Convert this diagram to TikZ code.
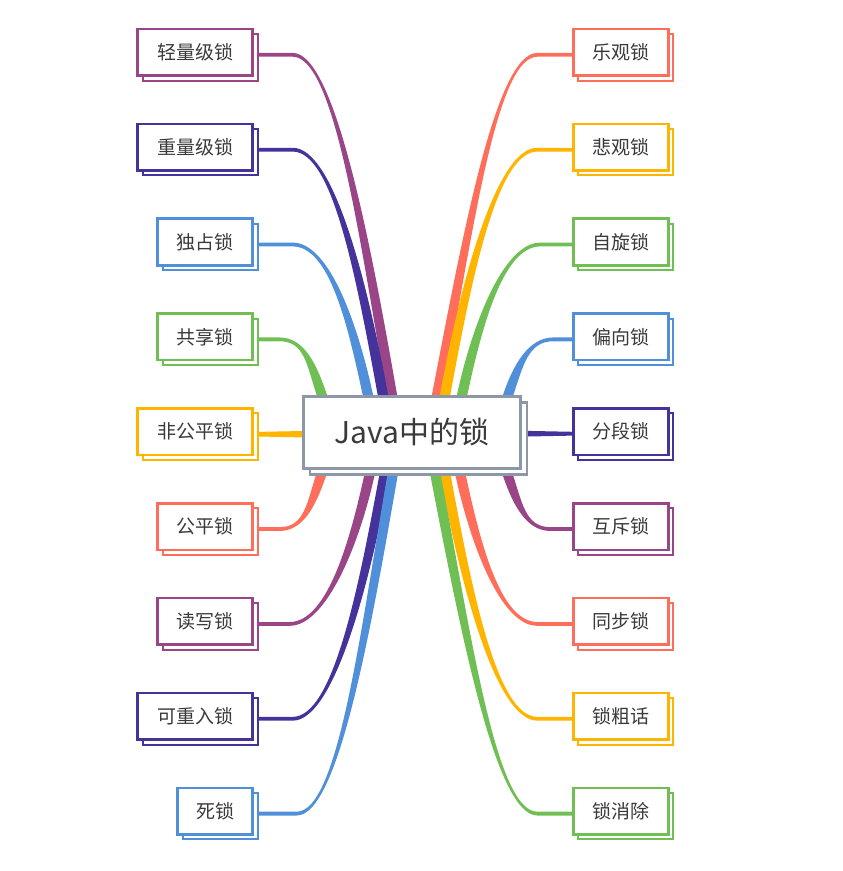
\documentclass[tikz,border=0pt]{standalone}
\usepackage{fontspec}
\setmainfont{Noto Sans CJK SC}
\usetikzlibrary{calc,backgrounds}
\definecolor{cPur}{HTML}{9A4587}
\definecolor{cInd}{HTML}{45329A}
\definecolor{cBlu}{HTML}{508FDA}
\definecolor{cGrn}{HTML}{70BF55}
\definecolor{cOra}{HTML}{FFB400}
\definecolor{cRed}{HTML}{FF6E5A}
\definecolor{cCen}{HTML}{8C97A8}
\definecolor{cTxt}{HTML}{3A3A3A}
\tikzset{
  topic/.style={draw=#1, line width=2.6pt, fill=white, minimum height=46.5pt, inner sep=0pt, outer sep=0pt,
    text=cTxt, font=\fontsize{19}{19}\selectfont, text height=16.7pt, text depth=2.3pt},
  shadowbox/.style={draw=#1, line width=2pt, fill=white, minimum height=46.5pt, inner sep=0pt, outer sep=0pt},
}
\def\bw{1.9}
\def\ba{5.2}
\newcommand\tbrfill[2]{%
  \fill[#1] ($(bE)+(0,-\bw)$) -- ($(bH)+(0,-\bw)$)
    .. controls ($(bC1)+(0,-\bw)$) and ($(bC2)+(#2*\ba,0)$) .. ($(bS)+(#2*\ba,0)$)
    -- ($(bX)+(#2*\ba,0)$) -- ($(bX)-(#2*\ba,0)$) -- ($(bS)-(#2*\ba,0)$)
    .. controls ($(bC2)-(#2*\ba,0)$) and ($(bC1)+(0,\bw)$) .. ($(bH)+(0,\bw)$)
    -- ($(bE)+(0,\bw)$) -- cycle;}
\begin{document}
\begin{tikzpicture}[x=1pt,y=-1pt]
\useasboundingbox (0,0) rectangle (843,871);
% central topic
\node[draw=cCen, line width=2.2pt, fill=white, minimum width=217pt, minimum height=72pt, inner sep=0pt, outer sep=0pt] (Cs) at (418.5,438.5) {};
\node[draw=cCen, line width=3.2pt, fill=white, minimum width=217pt, minimum height=72pt, inner sep=0pt, outer sep=0pt,
  text=cTxt, font=\fontsize{30}{30}\selectfont, text height=26pt, text depth=4pt] (C) at (412,432.5) {Java中的锁};
% left topics
\foreach \i/\t/\c/\w in {0/轻量级锁/cPur/115, 1/重量级锁/cInd/115, 2/独占锁/cBlu/95, 3/共享锁/cGrn/95,
  4/非公平锁/cOra/115, 5/公平锁/cRed/95, 6/读写锁/cPur/95, 7/可重入锁/cInd/115, 8/死锁/cBlu/75}{
  \pgfmathsetmacro\yy{52.3+94.85*\i}
  \node[shadowbox=\c, minimum width=\w pt, anchor=east] (Ls\i) at (257.7,\yy+5) {};
  \node[topic=\c, minimum width=\w pt, anchor=east] (L\i) at (252.7,\yy) {\t};
}
% right topics
\foreach \i/\t/\c in {0/乐观锁/cRed, 1/悲观锁/cOra, 2/自旋锁/cGrn, 3/偏向锁/cBlu,
  4/分段锁/cInd, 5/互斥锁/cPur, 6/同步锁/cRed, 7/锁粗话/cOra, 8/锁消除/cGrn}{
  \pgfmathsetmacro\yy{52.3+94.85*\i}
  \node[shadowbox=\c, minimum width=95pt, anchor=west] (Rs\i) at (578.3,\yy+5) {};
  \node[topic=\c, minimum width=95pt, anchor=west] (R\i) at (573.3,\yy) {\t};
}
\begin{scope}[on background layer]
% left curved branches
\foreach \i/\c/\hd/\kd/\sx/\sy/\vx/\vy/\p in {
  0/cPur/35/42/-20/-37/-27/-155/1,
  1/cInd/35/40/-29/-37/-22/-120/1,
  2/cBlu/35/37/-44/-37/-15/-70/1,
  3/cGrn/22/25/-90/-37/-10/-30/1,
  5/cRed/22/25/-90/40/-10/30/-1,
  6/cPur/32/37/-42/40/-15/70/-1,
  7/cInd/35/40/-27/40/-22/120/-1,
  8/cBlu/39/42/-19/40/-27/155/-1}{
  \coordinate (bE) at ($(Ls\i.east)+(0,-2.5)$);
  \coordinate (bH) at ($(bE)+(\hd,0)$);
  \coordinate (bC1) at ($(bH)+(\kd,0)$);
  \coordinate (bS) at ($(C)+(\sx,\sy)$);
  \coordinate (bC2) at ($(bS)+(\vx,\vy)$);
  \coordinate (bX) at ($(bS)+({-0.3*(\vx)},{-0.3*(\vy)})$);
  \tbrfill{\c}{\p}
}
% right curved branches
\foreach \i/\c/\hd/\kd/\sx/\sy/\vx/\vy/\p in {
  0/cRed/-36/-42/25/-37/30/-155/-1,
  1/cOra/-36/-40/33/-37/22/-120/-1,
  2/cGrn/-33/-37/50/-37/15/-70/-1,
  3/cBlu/-20/-25/96/-37/10/-30/-1,
  5/cPur/-23/-25/95/40/10/30/1,
  6/cRed/-36/-37/48/40/15/70/1,
  7/cOra/-36/-40/33/40/22/120/1,
  8/cGrn/-36/-42/23/40/30/155/1}{
  \coordinate (bE) at ($(R\i.west)+(0,2.5)$);
  \coordinate (bH) at ($(bE)+(\hd,0)$);
  \coordinate (bC1) at ($(bH)+(\kd,0)$);
  \coordinate (bS) at ($(C)+(\sx,\sy)$);
  \coordinate (bC2) at ($(bS)+(\vx,\vy)$);
  \coordinate (bX) at ($(bS)+({-0.3*(\vx)},{-0.3*(\vy)})$);
  \tbrfill{\c}{\p}
}
% straight branches
\coordinate (bE) at ($(Ls4.east)+(0,-2.5)$);
\fill[cOra] ($(bE)+(0,-2.3)$) -- ($(C.west|-bE)+(8,-3.4)$) -- ($(C.west|-bE)+(8,3.4)$) -- ($(bE)+(0,2.3)$) -- cycle;
\coordinate (bE) at ($(R4.west)+(0,2.0)$);
\fill[cInd] ($(bE)+(0,-1.9)$) -- ($(C.east|-bE)+(-8,-3.1)$) -- ($(C.east|-bE)+(-8,3.1)$) -- ($(bE)+(0,1.9)$) -- cycle;
\end{scope}
\end{tikzpicture}
\end{document}
